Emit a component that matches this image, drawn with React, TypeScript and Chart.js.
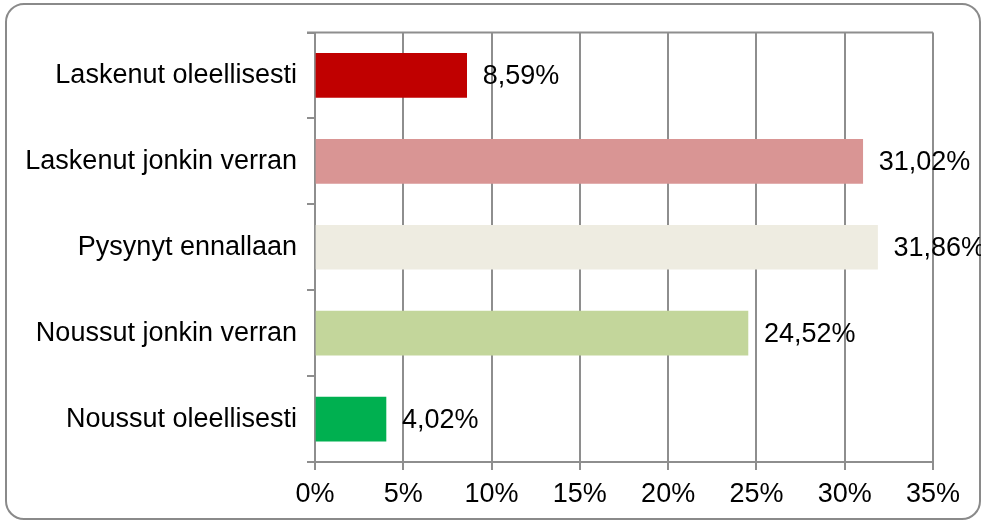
import React, { useEffect, useRef } from "react";
import { Chart, registerables } from "chart.js";

Chart.register(...registerables);

const categories = [
  "Laskenut oleellisesti",
  "Laskenut jonkin verran",
  "Pysynyt ennallaan",
  "Noussut jonkin verran",
  "Noussut oleellisesti",
];
const values = [8.59, 31.02, 31.86, 24.52, 4.02];
const valueLabels = ["8,59%", "31,02%", "31,86%", "24,52%", "4,02%"];
const barColors = ["#C00000", "#D99594", "#EEECE1", "#C3D69B", "#00B050"];
const xMax = 35;
const xStep = 5;

const FONT = "'Liberation Sans', Arial, sans-serif";
const GRID = "#8e8e8e";

export default function App() {
  const ref = useRef<HTMLCanvasElement>(null);

  useEffect(() => {
    if (!ref.current) return;
    const framePlugin = {
      id: "frame",
      beforeDraw(chart: any) {
        const c = chart.ctx;
        c.save();
        c.fillStyle = "#ffffff";
        c.fillRect(0, 0, chart.width, chart.height);
        c.beginPath();
        c.lineWidth = 2;
        c.strokeStyle = "#8a8a8a";
        (c as any).roundRect(6, 4, 974, 515, 18);
        c.stroke();
        c.restore();
      },
      afterDraw(chart: any) {
        const c = chart.ctx;
        const a = chart.chartArea;
        c.save();
        c.strokeStyle = GRID;
        c.lineWidth = 2;
        c.beginPath();
        c.moveTo(a.left - 8, a.top);
        c.lineTo(a.right, a.top);
        c.stroke();
        c.restore();
      },
    };
    const labelPlugin = {
      id: "vlabels",
      afterDatasetsDraw(chart: any) {
        const c = chart.ctx;
        const meta = chart.getDatasetMeta(0);
        c.save();
        c.font = `27px ${FONT}`;
        c.fillStyle = "#000";
        c.textAlign = "left";
        c.textBaseline = "middle";
        meta.data.forEach((bar: any, i: number) => {
          c.fillText(valueLabels[i], bar.x + 16, bar.y + 1);
        });
        c.restore();
      },
    };
    const chart = new Chart(ref.current, {
      type: "bar",
      data: {
        labels: categories,
        datasets: [
          {
            data: values,
            backgroundColor: barColors,
            borderWidth: 0,
            barThickness: 44,
          },
        ],
      },
      options: {
        indexAxis: "y",
        animation: false,
        responsive: false,
        layout: { padding: { top: 32.5, right: 48, bottom: 0, left: 0 } },
        plugins: {
          legend: { display: false },
          tooltip: { enabled: false },
        },
        scales: {
          x: {
            min: 0,
            max: xMax,
            ticks: {
              stepSize: xStep,
              color: "#000",
              font: { family: FONT, size: 27 },
              padding: 8,
              callback: (v: any) => `${v}%`,
            },
            grid: {
              color: GRID,
              lineWidth: 2,
              tickLength: 8,
              tickColor: GRID,
            },
            border: { color: GRID, width: 2 },
            afterFit: (s: any) => {
              s.height = 59;
            },
          },
          y: {
            offset: true,
            ticks: {
              color: "#000",
              font: { family: FONT, size: 27 },
              padding: 10,
            },
            grid: {
              offset: true,
              drawOnChartArea: false,
              tickLength: 8,
              color: GRID,
              lineWidth: 2,
            },
            border: { color: GRID, width: 2 },
            afterFit: (s: any) => {
              s.width = 315;
            },
          },
        },
      },
      plugins: [framePlugin, labelPlugin],
    });
    return () => chart.destroy();
  }, []);

  return (
    <div style={{ position: "fixed", left: 0, top: 0, width: 981, height: 521 }}>
      <canvas ref={ref} width={981} height={521} />
    </div>
  );
}
